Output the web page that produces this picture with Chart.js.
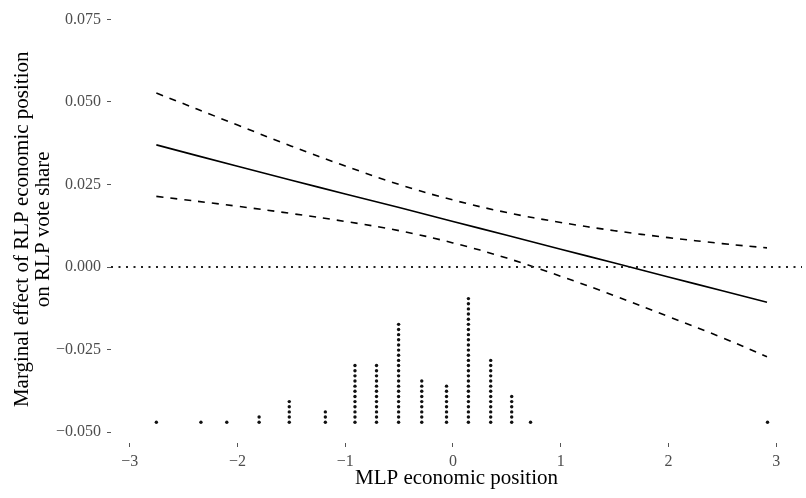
<!DOCTYPE html>
<html>
<head>
<meta charset="utf-8">
<script src="https://cdn.jsdelivr.net/npm/chart.js@4/dist/chart.umd.min.js"></script>
<style>
  body { margin: 0; background: #fff; }
  #wrap { width: 806px; height: 498px; }
</style>
</head>
<body>
<div id="wrap"><canvas id="MyChart"></canvas></div>
<script>
// moderator values where the marginal effect is evaluated
const xVals = [-2.754, -2, -1.5, -1, -0.5, 0, 0.5, 1, 1.5, 2, 2.5, 2.915];
const estimate = [0.0370, 0.0305, 0.0263, 0.0221, 0.0180, 0.0138, 0.0096, 0.0054, 0.0012, -0.0030, -0.0072, -0.0107];
const upper = [0.0527, 0.0430, 0.0366, 0.0306, 0.0250, 0.0203, 0.0165, 0.0135, 0.0110, 0.0089, 0.0071, 0.0058];
const lower = [0.0214, 0.0184, 0.0162, 0.0138, 0.0110, 0.0073, 0.0027, -0.0028, -0.0087, -0.0150, -0.0214, -0.0272];

// distribution of MLP economic position (stacked dots)
const dotX = [-2.754, -2.34, -2.10, -1.80, -1.52, -1.185, -0.91, -0.71, -0.505, -0.29, -0.06, 0.143, 0.35, 0.545, 0.72, 2.92];
const dotCount = [1, 1, 1, 2, 5, 3, 12, 12, 20, 9, 8, 25, 13, 6, 1, 1];

const xTicks = [-3, -2, -1, 0, 1, 2, 3];
const yTicks = [-0.05, -0.025, 0, 0.025, 0.05, 0.075];
const xLimits = [-3.175, 3.24];
const yLimits = [-0.0533, 0.07615];

const dotBase = -0.0470;
const dotStep = 0.00156;

function toPts(xs, ys) {
  return xs.map((x, i) => ({ x: x, y: ys[i] }));
}

let dots = [];
for (let i = 0; i < dotX.length; i++) {
  for (let k = 0; k < dotCount[i]; k++) {
    dots.push({ x: dotX[i], y: dotBase + k * dotStep });
  }
}

const fmt = (v) => {
  let s = Math.abs(v).toFixed(3);
  return v < -1e-9 ? "\u2212" + s : s;
};

const tickFont = { family: "Liberation Serif", size: 16 };
const xTitleFont = { family: "Liberation Serif", size: 21, lineHeight: 1.15 };
const yTitleFont = { family: "Liberation Serif", size: 21, lineHeight: 1.0 };

const lineBase = { showLine: true, pointRadius: 0, borderColor: "#000", fill: false, tension: 0.4 };

const data = {
  datasets: [
    { ...lineBase, label: "zero", data: [{ x: xLimits[0], y: 0 }, { x: xLimits[1], y: 0 }],
      borderWidth: 2, borderDash: [2, 5.5], tension: 0, borderColor: "#222" },
    { ...lineBase, label: "upper", data: toPts(xVals, upper), borderWidth: 1.6, borderDash: [7, 7] },
    { ...lineBase, label: "lower", data: toPts(xVals, lower), borderWidth: 1.6, borderDash: [7, 7] },
    { ...lineBase, label: "estimate", data: toPts(xVals, estimate), borderWidth: 1.6 },
    { label: "dots", data: dots, showLine: false, pointRadius: 1.7, pointBorderWidth: 0,
      backgroundColor: "#111", borderColor: "#111" },
  ],
};

const config = {
  type: "scatter",
  data: data,
  options: {
    responsive: true,
    maintainAspectRatio: false,
    animation: false,
    layout: { padding: { top: 0, right: 4, left: 0, bottom: 0 } },
    plugins: { legend: { display: false }, tooltip: { enabled: false } },
    scales: {
      x: {
        type: "linear",
        min: xLimits[0],
        max: xLimits[1],
        afterBuildTicks: (s) => { s.ticks = xTicks.map((v) => ({ value: v })); },
        afterFit: (s) => { s.height = 55; },
        ticks: { color: "#4d4d4d", font: tickFont, padding: 5, maxRotation: 0,
          callback: (v) => (v < 0 ? "\u2212" + Math.abs(v) : String(v)) },
        grid: { display: true, drawOnChartArea: false, drawTicks: true, tickLength: 4, color: "#555" },
        border: { display: false },
        title: { display: true, text: "MLP economic position", color: "#000", font: xTitleFont,
          padding: { top: 0, bottom: 7 } },
      },
      y: {
        type: "linear",
        min: yLimits[0],
        max: yLimits[1],
        afterBuildTicks: (s) => { s.ticks = yTicks.map((v) => ({ value: v })); },
        afterFit: (s) => { s.width = 111; },
        ticks: { color: "#4d4d4d", font: tickFont, padding: 6, callback: (v) => fmt(v) },
        grid: { display: true, drawOnChartArea: false, drawTicks: true, tickLength: 4, color: "#555" },
        border: { display: false },
        title: { display: true, text: ["Marginal effect of RLP economic position", "on RLP vote share"],
          color: "#000", font: yTitleFont, padding: { top: 12, bottom: 0 } },
      },
    },
  },
};

new Chart(document.getElementById("MyChart").getContext("2d"), config);
</script>
</body>
</html>
